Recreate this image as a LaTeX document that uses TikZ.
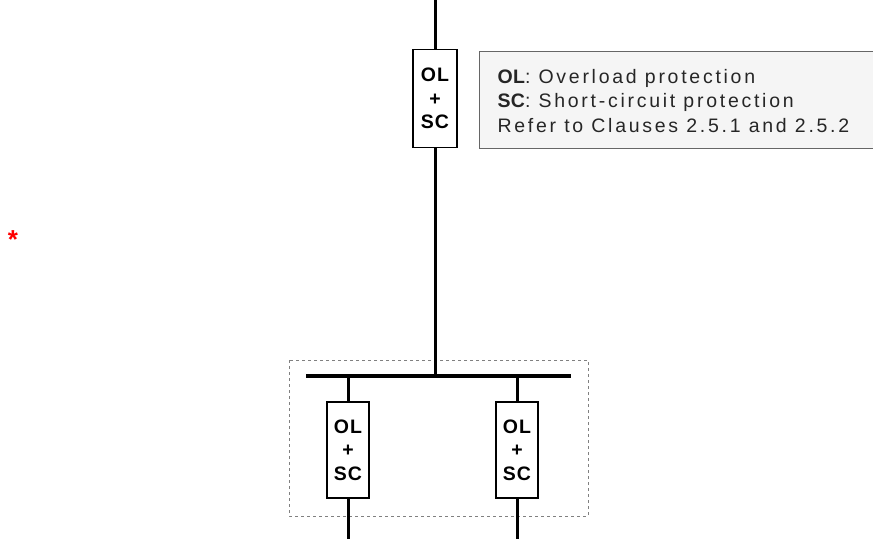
\documentclass[tikz,border=0pt]{standalone}
\usepackage{fontspec}
\setmainfont{Liberation Sans}
\newfontfamily\legfont[LetterSpace=14]{Liberation Sans}
\newfontfamily\legbold[LetterSpace=2]{Liberation Sans Bold}
\newfontfamily\boxfont[LetterSpace=5]{Liberation Sans}
\newcommand{\lb}[1]{{\legbold #1}}
\begin{document}
\begin{tikzpicture}[x=1pt,y=-1pt,
  wire/.style={line width=3pt},
  prot/.style={draw,line width=1.4pt,fill=white,minimum width=44pt,minimum height=98pt,inner sep=0pt,font=\boxfont\bfseries\fontsize{19.5}{23.5}\selectfont,align=center},
]
\useasboundingbox (0,0) rectangle (873,539);
% dashed enclosure
\draw[gray,dashed,line width=0.6pt] (289,360) rectangle (588,516);
% legend
\node[draw=gray!80!black,fill=black!4,line width=0.8pt,anchor=north west,minimum width=400pt,minimum height=97pt,inner sep=0pt] (leg) at (479,51) {};
\node[anchor=west,align=left,font=\legfont\fontsize{19.5}{24.5}\selectfont,text=black!85] (legtxt) at (494,101) {\lb{OL}: Overload protection\\\lb{SC}: Short-circuit protection\\Refer to Clauses 2.5.1 and 2.5.2};
% top feeder
\coordinate (top) at (435,0);
\node[prot] (p0) at (435,98.5) {OL\\+\\SC};
\coordinate (busL) at (306,376);
\coordinate (busR) at (571,376);
\coordinate (busM) at (435,376);
\draw[wire] (top) -- (p0.north);
\draw[wire] (p0.south) -- (busM);
\draw[line width=4.5pt] (busL) -- (busR);
% branches
\node[prot,minimum width=42pt,minimum height=96pt] (p1) at (348,450) {OL\\+\\SC};
\node[prot,minimum width=42pt,minimum height=96pt] (p2) at (517,450) {OL\\+\\SC};
\coordinate (b1) at (348,376);
\coordinate (b2) at (517,376);
\coordinate (e1) at (348,539);
\coordinate (e2) at (517,539);
\draw[wire] (b1) -- (p1.north);
\draw[wire] (p1.south) -- (e1);
\draw[wire] (b2) -- (p2.north);
\draw[wire] (p2.south) -- (e2);
% red star
\node[text=red,font=\bfseries\fontsize{26}{26}\selectfont,inner sep=0pt] (star) at (13,240) {*};
\end{tikzpicture}
\end{document}
